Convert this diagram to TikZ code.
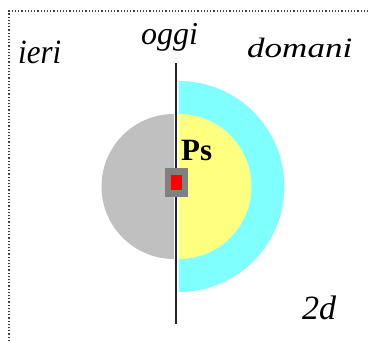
\documentclass[tikz,border=0pt]{standalone}
\usepackage{fontspec}
\setmainfont{Liberation Serif}
\usepackage{xcolor}
\definecolor{past}{RGB}{192,192,192}
\definecolor{near}{RGB}{255,255,128}
\definecolor{far}{RGB}{128,255,255}
\definecolor{core}{RGB}{128,128,128}

\begin{document}
\begin{tikzpicture}[x=1pt, y=-1pt, every node/.style={inner sep=0pt},
  word/.style={font=\fontsize{31}{31}\selectfont\itshape, anchor=base west}]
\useasboundingbox (0,0) rectangle (368,341);
\draw[dotted, line width=1.2pt, black!75] (9,341) -- (9,11) -- (368,11);
% half disks
\coordinate (c) at (177,186.5);
\fill[far] (179,186.5) -- ++(0,-105.5) arc[start angle=-90, end angle=90, radius=105.5] -- cycle;
\fill[near] (179,186.5) -- ++(0,-72.5) arc[start angle=-90, end angle=90, radius=72.5] -- cycle;
\fill[past] (174,186.5) -- ++(0,-72.5) arc[start angle=270, end angle=90, radius=72.5] -- cycle;
% time axis
\coordinate (top) at (176.5,63);
\coordinate (bot) at (176.5,324);
\draw[line width=2pt, black!85] (top) -- (bot);
\node[fill=core, minimum width=23pt, minimum height=29pt] (Ps) at (176.5,182.5) {};
\node[fill=red, minimum width=11pt, minimum height=15pt] (Pr) at (Ps.center) {};
\node[word, font=\fontsize{31}{31}\selectfont\bfseries] (PsL) at (181,160) {Ps};
% labels
\node[word, yscale=1.1] (ieri) at (18,63) {ieri};
\node[word, font=\fontsize{32}{32}\selectfont\itshape] (oggi) at (141,44) {oggi};
\node[word, font=\fontsize{28}{28}\selectfont\itshape, xscale=1.25] (domani) at (247,57) {domani};
\node[word, font=\fontsize{34}{34}\selectfont\itshape] (dim) at (302,319) {2d};
\end{tikzpicture}
\end{document}
